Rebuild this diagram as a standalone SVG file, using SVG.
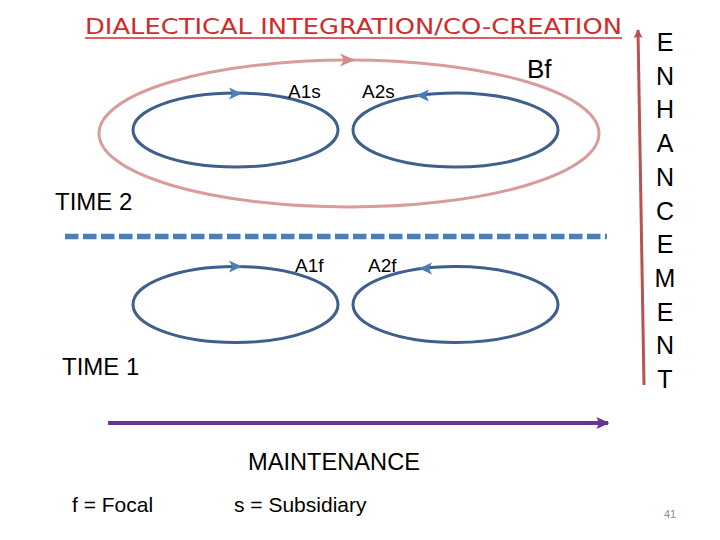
<svg xmlns="http://www.w3.org/2000/svg" width="720" height="540" viewBox="0 0 720 540">
<style>
.lbl{font-family:"Liberation Sans",Arial,sans-serif;fill:#000}
.loop{fill:none;stroke:#3F5F8C;stroke-width:3}
.bhead{fill:#4A7EBB}
.enh{font-family:"Liberation Sans",Arial,sans-serif;font-size:25px;fill:#000;text-anchor:middle}
</style>
<defs>
<marker id="purpleHead" viewBox="0 0 10 10" refX="9" refY="5" markerWidth="3.2" markerHeight="3" orient="auto" markerUnits="strokeWidth" preserveAspectRatio="none">
<path d="M0,0 L10,5 L0,10 L2,5 z" fill="#6A3592"/>
</marker>
<marker id="redHead" viewBox="0 0 10 10" refX="9" refY="5" markerWidth="3" markerHeight="3" orient="auto" markerUnits="strokeWidth">
<path d="M0,0 L10,5 L0,10 L2,5 z" fill="#B85450"/>
</marker>
</defs>
<rect width="720" height="540" fill="#fff"/>

<g id="title">
<text x="85" y="34" font-family="'DejaVu Sans',sans-serif" font-size="22" fill="#D42A2A" textLength="537" lengthAdjust="spacingAndGlyphs">DIALECTICAL INTEGRATION/CO-CREATION</text>
<line x1="85" y1="38" x2="622" y2="38" stroke="#D42A2A" stroke-width="1.5"/>
</g>

<g id="Bf">
<ellipse cx="349" cy="133.5" rx="250" ry="73.5" fill="none" stroke="#D79C9B" stroke-width="3"/>
<path d="M340,53.5 L355,60 L340,66.5 L344,60 z" fill="#D48A8A"/>
<text class="lbl" x="527" y="78" font-size="26">Bf</text>
</g>

<g id="A1s">
<ellipse class="loop" cx="235.5" cy="130" rx="102.5" ry="37"/>
<path class="bhead" d="M229,87.5 L242,93.5 L229,99.5 L232,93.5 z"/>
<text class="lbl" x="288" y="98" font-size="19">A1s</text>
</g>

<g id="A2s">
<ellipse class="loop" cx="455.5" cy="130" rx="102.5" ry="37"/>
<path class="bhead" d="M429,89.5 L416,95.5 L429,101.5 L426,95.5 z"/>
<text class="lbl" x="362" y="98" font-size="19">A2s</text>
</g>

<g id="A1f">
<ellipse class="loop" cx="235.5" cy="304.5" rx="102.5" ry="38"/>
<path class="bhead" d="M229,260.5 L242,266.5 L229,272.5 L232,266.5 z"/>
<text class="lbl" x="295" y="272" font-size="19">A1f</text>
</g>

<g id="A2f">
<ellipse class="loop" cx="455.5" cy="304.5" rx="102.5" ry="38"/>
<path class="bhead" d="M432,262.5 L419,268.5 L432,274.5 L429,268.5 z"/>
<text class="lbl" x="368" y="272" font-size="19">A2f</text>
</g>

<g id="labels">
<text class="lbl" x="55" y="210" font-size="24">TIME 2</text>
<text class="lbl" x="62" y="375" font-size="24">TIME 1</text>
<text class="lbl" x="248" y="470" font-size="24" textLength="172" lengthAdjust="spacingAndGlyphs">MAINTENANCE</text>
<text class="lbl" x="72" y="512" font-size="21">f = Focal</text>
<text class="lbl" x="234" y="512" font-size="21">s = Subsidiary</text>
<text x="664" y="518" font-family="'Liberation Sans',Arial,sans-serif" font-size="11" fill="#8C8C8C">41</text>
</g>

<g id="enhancement">
<text class="enh" x="665" y="51">E</text>
<text class="enh" x="665" y="85">N</text>
<text class="enh" x="665" y="118">H</text>
<text class="enh" x="665" y="152">A</text>
<text class="enh" x="665" y="186">N</text>
<text class="enh" x="665" y="220">C</text>
<text class="enh" x="665" y="253">E</text>
<text class="enh" x="665" y="287">M</text>
<text class="enh" x="665" y="321">E</text>
<text class="enh" x="665" y="354">N</text>
<text class="enh" x="665" y="388">T</text>
</g>

<g id="connectors">
<line x1="65" y1="236.5" x2="607" y2="236.5" stroke="#4F7DB5" stroke-width="5.5" stroke-dasharray="13.5 4.5"/>
<line x1="108" y1="423" x2="608" y2="423" stroke="#6A3592" stroke-width="4" marker-end="url(#purpleHead)"/>
<line x1="644" y1="385" x2="638" y2="30" stroke="#B85450" stroke-width="3" marker-end="url(#redHead)"/>
</g>
</svg>
